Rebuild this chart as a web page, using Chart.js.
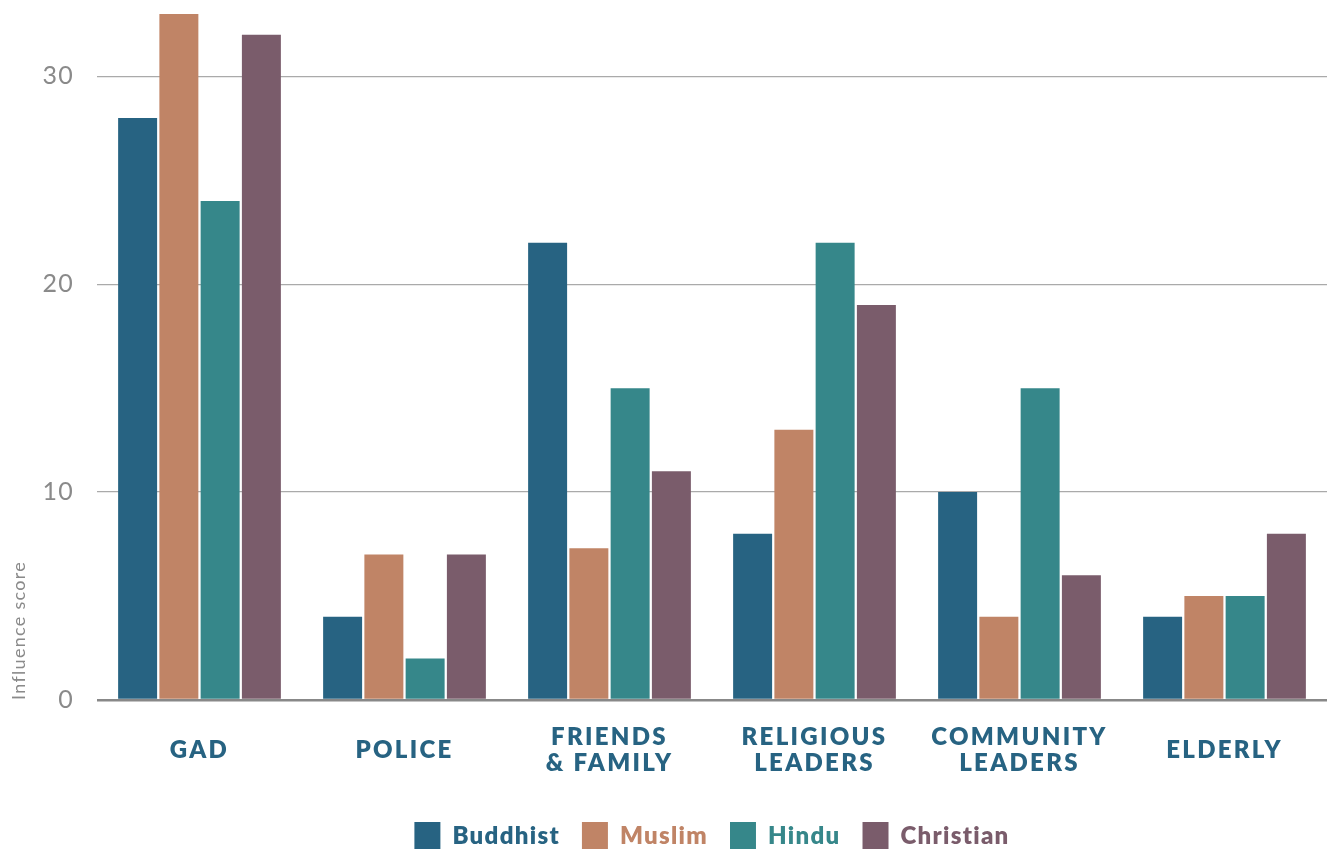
<!DOCTYPE html>
<html>
<head>
<meta charset="utf-8">
<script src="https://cdn.jsdelivr.net/npm/chart.js@4/dist/chart.umd.min.js"></script>
<style>
  html, body { margin: 0; padding: 0; background: #fff; }
  #wrap { width: 1333px; height: 849px; }
</style>
</head>
<body>
<div id="wrap"><canvas id="chart1"></canvas></div>
<script>
const categories = [['GAD'], ['POLICE'], ['FRIENDS', '& FAMILY'], ['RELIGIOUS', 'LEADERS'], ['COMMUNITY', 'LEADERS'], ['ELDERLY']];
const buddhist = [28, 4, 22, 8, 10, 4];
const muslim = [33, 7, 7.3, 13, 4, 5];
const hindu = [24, 2, 15, 22, 15, 5];
const christian = [32, 7, 11, 19, 6, 8];
const yTicks = [0, 10, 20, 30];

const colors = {
  Buddhist: '#276382',
  Muslim: '#c08466',
  Hindu: '#36878a',
  Christian: '#7a5c6b'
};

function ds(label, data) {
  return {
    label: label,
    data: data,
    backgroundColor: colors[label],
    borderWidth: 0,
    categoryPercentage: 0.805,
    barPercentage: 0.945
  };
}

// wider tracking, like the original typeface
const spacing = {
  id: 'spacing',
  beforeLayout(chart) { chart.ctx.letterSpacing = '1.3px'; },
  beforeDraw(chart) { chart.ctx.letterSpacing = '1.3px'; },
  afterLayout(chart) {
    const x = chart.scales.x;
    if (x._wide) return;
    const orig = x.drawLabels;
    x.drawLabels = function (area) {
      this.ctx.save();
      this.ctx.letterSpacing = '2.3px';
      orig.call(this, area);
      this.ctx.restore();
    };
    x._wide = true;
  }
};

const data1 = {
  labels: categories,
  datasets: [
    ds('Buddhist', buddhist),
    ds('Muslim', muslim),
    ds('Hindu', hindu),
    ds('Christian', christian)
  ]
};

const config1 = {
  type: 'bar',
  data: data1,
  plugins: [spacing],
  options: {
    responsive: true,
    maintainAspectRatio: false,
    animation: false,
    layout: { padding: { top: 14, right: 6, left: 0, bottom: -11 } },
    scales: {
      x: {
        grid: { display: false, drawTicks: false },
        border: { display: false },
        afterFit: s => { s.height = 100; },
        ticks: {
          color: '#276382',
          padding: 37,
          crossAlign: 'center',
          font: { family: 'Lato', size: 24, weight: 800, lineHeight: 1.1 },
          maxRotation: 0
        }
      },
      y: {
        min: 0,
        max: 33,
        afterBuildTicks: function (axis) {
          axis.ticks = yTicks.map(v => ({ value: v }));
        },
        afterFit: s => { s.width = 97; s.paddingTop = 0; },
        grid: {
          color: ctx => ctx.tick && ctx.tick.value === 0 ? '#888888' : '#aaaaaa',
          lineWidth: ctx => ctx.tick && ctx.tick.value === 0 ? 2.5 : 1.3,
          drawTicks: false
        },
        border: { display: false },
        ticks: {
          color: '#8a8a8a',
          padding: 23,
          font: { family: 'Lato', size: 25, lineHeight: 1 }
        },
        title: {
          display: true,
          text: 'Influence score',
          align: 'start',
          color: '#8a8a8a',
          font: { family: 'Lato', size: 18 },
          padding: { top: 8, bottom: 12 }
        }
      }
    },
    plugins: {
      legend: {
        position: 'bottom',
        fullSize: false,
        labels: {
          boxWidth: 26,
          boxHeight: 28,
          padding: 22,
          font: { family: 'Lato', size: 24, weight: 800 },
          generateLabels: function (chart) {
            return chart.data.datasets.map((d, i) => ({
              text: d.label,
              fillStyle: d.backgroundColor,
              strokeStyle: d.backgroundColor,
              lineWidth: 0,
              fontColor: d.backgroundColor,
              hidden: !chart.isDatasetVisible(i),
              datasetIndex: i
            }));
          }
        }
      },
      tooltip: { enabled: false }
    }
  }
};

const ctx1 = document.getElementById('chart1').getContext('2d');
new Chart(ctx1, config1);
</script>
</body>
</html>
